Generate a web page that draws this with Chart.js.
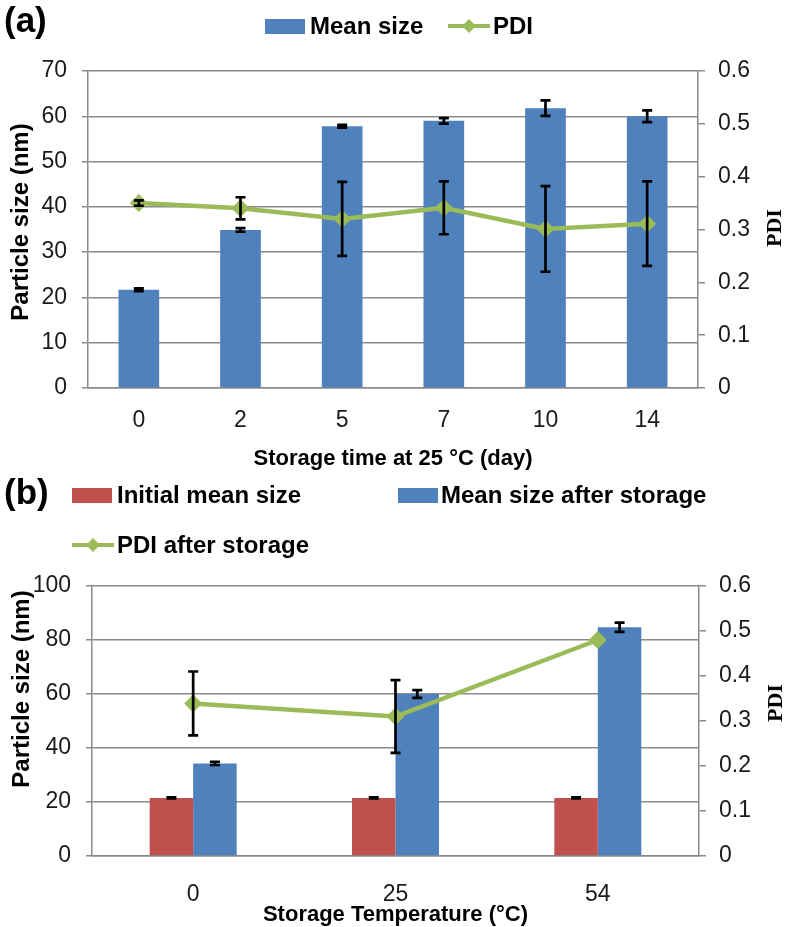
<!DOCTYPE html>
<html>
<head>
<meta charset="utf-8">
<script src="https://cdn.jsdelivr.net/npm/chart.js@4.4.1/dist/chart.umd.min.js"></script>
<style>
  body { margin: 0; background: #fff; width: 785px; height: 927px; position: relative; overflow: hidden;
         font-family: "Liberation Sans", Arial, sans-serif; color: #000; }
  canvas { position: absolute; left: 0; }
  .lab { position: absolute; font-weight: bold; font-size: 35px; line-height: 40px; }
  .leg { position: absolute; font-weight: bold; font-size: 24px; line-height: 28px; height: 28px; white-space: nowrap; }
  .box { position: absolute; width: 40px; height: 15px; }
  .sym { position: absolute; }
  .rot { position: absolute; font-weight: bold; font-size: 24px; white-space: nowrap;
         transform: translate(-50%, -50%) rotate(-90deg); }
  .serif { font-family: "Liberation Serif", "Times New Roman", serif; font-size: 22px; }
</style>
</head>
<body>
<canvas id="chartA" width="785" height="470" style="top:0"></canvas>
<canvas id="chartB" width="785" height="457" style="top:470px"></canvas>

<div class="lab" style="left:4px;top:0px">(a)</div>
<div class="box" style="left:265px;top:19px;background:#4f81bd"></div>
<div class="leg" style="left:310px;top:12px">Mean size</div>
<svg class="sym" style="left:446px;top:16px" width="46" height="20"><line x1="2" y1="10" x2="44" y2="10" stroke="#9bbb59" stroke-width="4"/><polygon points="23,3 30,10 23,17 16,10" fill="#9bbb59"/></svg>
<div class="leg" style="left:493px;top:12px">PDI</div>
<div class="rot" style="left:20px;top:222px">Particle size (nm)</div>
<div class="rot serif" style="left:774px;top:228px">PDI</div>

<div class="lab" style="left:4px;top:472px">(b)</div>
<div class="box" style="left:72px;top:488px;background:#c0504d"></div>
<div class="leg" style="left:117px;top:481px">Initial mean size</div>
<div class="box" style="left:398px;top:488px;background:#4f81bd"></div>
<div class="leg" style="left:441px;top:481px">Mean size after storage</div>
<svg class="sym" style="left:70px;top:535px" width="46" height="20"><line x1="2" y1="10" x2="44" y2="10" stroke="#9bbb59" stroke-width="4"/><polygon points="23,3 30,10 23,17 16,10" fill="#9bbb59"/></svg>
<div class="leg" style="left:117px;top:531px">PDI after storage</div>
<div class="rot" style="left:21px;top:689px">Particle size (nm)</div>
<div class="rot serif" style="left:775px;top:703px">PDI</div>

<script>
// (a) storage time at 25 °C
const daysA = ['0', '2', '5', '7', '10', '14'];
const sizeA = [21.7, 34.9, 57.8, 59.0, 61.8, 60.0];
const sizeErrA = [0.3, 0.4, 0.3, 0.6, 1.7, 1.3];
const pdiA = [0.350, 0.340, 0.320, 0.341, 0.301, 0.311];
const pdiErrA = [0.005, 0.021, 0.070, 0.050, 0.081, 0.080];

// (b) storage temperature
const tempsB = ['0', '25', '54'];
const initB = [21.5, 21.5, 21.5];
const initErrB = [0.2, 0.2, 0.2];
const afterB = [34.3, 60.0, 84.7];
const afterErrB = [0.6, 1.4, 1.7];
const pdiB = [0.339, 0.310, 0.480];
const pdiErrB = [0.071, 0.081, 0];

const pdiTicks = ['0', '0.1', '0.2', '0.3', '0.4', '0.5', '0.6'];

const GRID = '#8a8a8a';
const BLUE = '#4f81bd';
const RED = '#c0504d';
const GREEN = '#9bbb59';
const tickFont = { family: '"Liberation Sans", Arial, sans-serif', size: 23 };
const titleFont = { family: '"Liberation Sans", Arial, sans-serif', size: 22, weight: 'bold', lineHeight: 1 };

const errorBars = {
  id: 'errorBars',
  afterDatasetsDraw(chart) {
    const ctx = chart.ctx;
    chart.data.datasets.forEach((ds, i) => {
      if (!ds.errors) return;
      const meta = chart.getDatasetMeta(i);
      const sc = chart.scales[ds.yAxisID];
      ctx.save();
      ctx.strokeStyle = '#000';
      ctx.lineWidth = 2.7;
      meta.data.forEach((el, j) => {
        const e = ds.errors[j];
        if (!e) return;
        const v = ds.data[j];
        const yt = sc.getPixelForValue(v + e);
        const yb = sc.getPixelForValue(v - e);
        const x = el.x;
        ctx.beginPath();
        ctx.moveTo(x, yt); ctx.lineTo(x, yb);
        ctx.moveTo(x - 5, yt); ctx.lineTo(x + 5, yt);
        ctx.moveTo(x - 5, yb); ctx.lineTo(x + 5, yb);
        ctx.stroke();
      });
      ctx.restore();
    });
  }
};

function lineSet(label, data, errors) {
  return {
    type: 'line', label, data, errors, yAxisID: 'y1', order: 0,
    borderColor: GREEN, backgroundColor: GREEN, borderWidth: 4.5,
    pointStyle: 'rectRot', pointRadius: 9, pointBorderWidth: 0,
    pointBackgroundColor: GREEN, tension: 0
  };
}

function scalesFor(opt) {
  return {
    x: {
      grid: { display: false, drawTicks: false },
      border: { display: true, color: GRID, width: 1.5 },
      ticks: { font: tickFont, color: '#1a1a1a', padding: opt.xPad },
      title: { display: true, text: opt.xTitle, font: titleFont, color: '#000', padding: { top: 0, bottom: opt.xTitlePad } },
      afterFit(s) { s.height = opt.xHeight; }
    },
    y: {
      position: 'left', min: 0, max: opt.yMax,
      ticks: { stepSize: opt.yStep, font: tickFont, color: '#1a1a1a', padding: 15 },
      grid: { color: GRID, lineWidth: 1.5, tickLength: 6 },
      border: { color: GRID, width: 1.5 },
      afterFit(s) { s.width = opt.yWidth; }
    },
    y1: {
      position: 'right', min: 0, max: 0.6,
      afterBuildTicks(s) { s.ticks = pdiTicks.map(t => ({ value: parseFloat(t) })); },
      ticks: { font: tickFont, color: '#1a1a1a', padding: 13, callback: (v, i) => pdiTicks[i] },
      grid: { drawOnChartArea: false, color: GRID, lineWidth: 1.5, tickLength: 7 },
      border: { color: GRID, width: 1.5 },
      afterFit(s) { s.width = opt.y1Width; }
    }
  };
}

new Chart(document.getElementById('chartA'), {
  type: 'bar',
  data: {
    labels: daysA,
    datasets: [
      lineSet('PDI', pdiA, pdiErrA),
      { label: 'Mean size', data: sizeA, errors: sizeErrA, yAxisID: 'y', order: 1,
        backgroundColor: BLUE, categoryPercentage: 0.4, barPercentage: 1 }
    ]
  },
  options: {
    responsive: false, animation: false, devicePixelRatio: 1,
    layout: { padding: { top: 71, left: 0, right: 0, bottom: 0 } },
    plugins: { legend: { display: false }, tooltip: { enabled: false } },
    scales: scalesFor({ xTitle: 'Storage time at 25 °C (day)', xPad: 19, xTitlePad: 0, xHeight: 82,
                        yMax: 70, yStep: 10, yWidth: 88, y1Width: 87 })
  },
  plugins: [errorBars]
});

new Chart(document.getElementById('chartB'), {
  type: 'bar',
  data: {
    labels: tempsB,
    datasets: [
      lineSet('PDI after storage', pdiB, pdiErrB),
      { label: 'Initial mean size', data: initB, errors: initErrB, yAxisID: 'y', order: 1,
        backgroundColor: RED, categoryPercentage: 0.43, barPercentage: 1 },
      { label: 'Mean size after storage', data: afterB, errors: afterErrB, yAxisID: 'y', order: 1,
        backgroundColor: BLUE, categoryPercentage: 0.43, barPercentage: 1 }
    ]
  },
  options: {
    responsive: false, animation: false, devicePixelRatio: 1,
    layout: { padding: { top: 116, left: 0, right: 0, bottom: 0 } },
    plugins: { legend: { display: false }, tooltip: { enabled: false } },
    scales: scalesFor({ xTitle: 'Storage Temperature (°C)', xPad: 25, xTitlePad: 1, xHeight: 71,
                        yMax: 100, yStep: 20, yWidth: 92, y1Width: 86 })
  },
  plugins: [errorBars]
});
</script>
</body>
</html>
